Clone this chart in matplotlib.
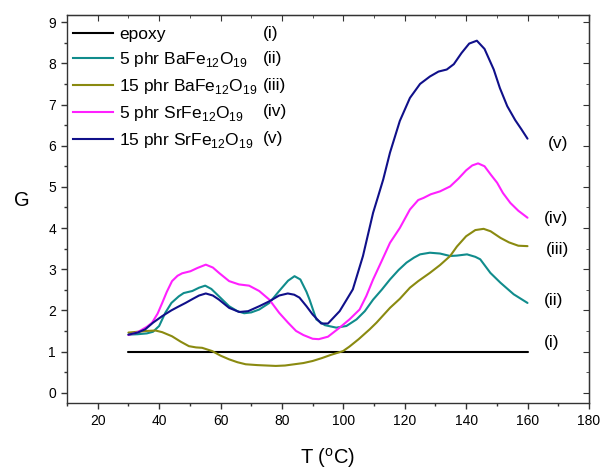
import matplotlib
matplotlib.use("Agg")
import matplotlib.pyplot as plt
from matplotlib.ticker import MultipleLocator
from matplotlib.lines import Line2D

plt.rcParams['font.family'] = ['Liberation Sans', 'DejaVu Sans']
plt.rcParams['mathtext.fontset'] = 'custom'
plt.rcParams['mathtext.rm'] = 'Liberation Sans'

# ---- data ----
T_epoxy = [30, 160]
G_epoxy = [1.0, 1.0]

T_ba5 = [30, 33, 36, 38, 40, 42, 44, 46.4, 48, 50.8, 53, 55, 57, 59.5, 62.8, 65.5, 67.7, 70, 72.6,
         75.9, 79.1, 82, 84.1, 86, 88, 89, 91.2, 94, 97.7, 101, 104.3, 107, 109.7, 112.5, 115.2,
         118, 120.6, 123, 125, 128.2, 131.5, 134.8, 137, 140.3, 143, 144.6, 147.9, 151.2, 155.5, 160]
G_ba5 = [1.41, 1.42, 1.44, 1.48, 1.62, 1.94, 2.18, 2.34, 2.42, 2.47, 2.55, 2.60, 2.52, 2.34, 2.10,
         1.98, 1.93, 1.95, 2.02, 2.18, 2.47, 2.72, 2.83, 2.75, 2.45, 2.26, 1.78, 1.64, 1.58, 1.62,
         1.78, 1.98, 2.26, 2.50, 2.75, 2.98, 3.16, 3.28, 3.36, 3.40, 3.38, 3.32, 3.33, 3.36, 3.30,
         3.24, 2.91, 2.67, 2.39, 2.18]

T_ba15 = [30, 33, 36, 38.8, 41, 44.2, 47, 49.7, 52, 54, 57.3, 60, 62.8, 65.5, 68.2, 72, 75, 78, 81,
          84, 87, 90, 93, 96, 99.9, 102, 105, 108.6, 110.8, 113, 115.2, 118.4, 121.7, 124.4, 128.2,
          131.5, 134.8, 137, 140, 143, 145.7, 148, 151.2, 154, 157, 160]
G_ba15 = [1.46, 1.48, 1.50, 1.51, 1.47, 1.37, 1.24, 1.13, 1.10, 1.09, 1.01, 0.90, 0.81, 0.74, 0.69,
          0.67, 0.66, 0.65, 0.66, 0.69, 0.72, 0.77, 0.84, 0.92, 1.01, 1.12, 1.30, 1.54, 1.70, 1.88,
          2.06, 2.28, 2.55, 2.71, 2.91, 3.10, 3.32, 3.55, 3.80, 3.95, 3.98, 3.92, 3.76, 3.65, 3.57, 3.56]

T_sr5 = [30, 33, 36, 37.7, 39.5, 41, 42.5, 44.2, 46, 47.5, 50.2, 52.5, 55.2, 57.5, 59.5, 62.8, 64.4,
         66, 69.3, 72.6, 75.9, 79.1, 82, 84.6, 87, 90, 92, 95, 98.8, 102, 105.3, 107.5, 109.7, 112.5,
         115.2, 118.4, 121.7, 124.4, 126.1, 128.5, 131.5, 134.8, 137.5, 140, 142, 143.9, 146, 148,
         150.1, 152, 154.4, 157, 160]
G_sr5 = [1.40, 1.47, 1.60, 1.70, 1.92, 2.18, 2.45, 2.71, 2.84, 2.90, 2.95, 3.03, 3.11, 3.04, 2.91,
         2.71, 2.67, 2.63, 2.60, 2.47, 2.26, 1.94, 1.70, 1.50, 1.40, 1.31, 1.30, 1.36, 1.58, 1.78,
         2.02, 2.35, 2.75, 3.20, 3.64, 4.00, 4.45, 4.68, 4.73, 4.82, 4.89, 5.01, 5.20, 5.40, 5.52,
         5.57, 5.50, 5.30, 5.10, 4.85, 4.61, 4.42, 4.25]

T_sr15 = [30, 33, 35.5, 38, 41, 44, 46, 48.6, 51, 53, 55.2, 57.5, 59.5, 62.8, 66.1, 69, 72.6, 75.9,
          79.1, 81.9, 84, 85.7, 88, 90, 92.8, 95, 98.8, 101, 103.1, 106.4, 109.7, 111.3, 113, 115.2,
          118.4, 121.7, 125, 128.2, 131, 133.7, 136, 138.5, 141, 143.5, 146, 149, 151, 153.4, 156,
          158, 160]
G_sr15 = [1.41, 1.46, 1.54, 1.70, 1.86, 2.00, 2.08, 2.18, 2.28, 2.36, 2.41, 2.36, 2.26, 2.06, 1.96,
          1.98, 2.10, 2.22, 2.36, 2.41, 2.38, 2.31, 2.10, 1.90, 1.68, 1.68, 1.98, 2.25, 2.51, 3.32,
          4.37, 4.76, 5.18, 5.83, 6.60, 7.16, 7.50, 7.68, 7.80, 7.85, 7.98, 8.25, 8.48, 8.55, 8.35,
          7.85, 7.40, 6.96, 6.62, 6.40, 6.17]

names = ["epoxy", "5 phr BaFe$_{12}$O$_{19}$", "15 phr BaFe$_{12}$O$_{19}$",
         "5 phr SrFe$_{12}$O$_{19}$", "15 phr SrFe$_{12}$O$_{19}$"]
tags = ["(i)", "(ii)", "(iii)", "(iv)", "(v)"]
colors = ["#000000", "#108c8c", "#8a8a10", "#ff20ff", "#10108a"]

series = [(T_epoxy, G_epoxy), (T_ba5, G_ba5), (T_ba15, G_ba15), (T_sr5, G_sr5), (T_sr15, G_sr15)]

FS = 12.5

# ---- figure ----
fig = plt.figure(figsize=(6.04, 4.70), dpi=100)
ax = fig.add_axes([0.111, 0.1426, 0.864, 0.826])

for (t, g), c in zip(series, colors):
    ax.plot(t, g, color=c, lw=1.5, solid_capstyle='round', solid_joinstyle='round')

ax.set_xlim(10, 180)
ax.set_ylim(-0.25, 9.18)
ax.xaxis.set_major_locator(MultipleLocator(20))
ax.xaxis.set_minor_locator(MultipleLocator(10))
ax.yaxis.set_major_locator(MultipleLocator(1))
ax.yaxis.set_minor_locator(MultipleLocator(0.5))
ax.set_xticks(range(20, 181, 20))
ax.tick_params(which='both', direction='out', labelsize=10, width=1, colors='#333333',
               labelcolor='black')
ax.tick_params(which='major', length=4.5)
ax.tick_params(which='minor', length=2.5)
for s in ax.spines.values():
    s.set_color('#333333')
    s.set_linewidth(1)

# mirrored inward ticks on top/right
top = ax.secondary_xaxis('top')
top.xaxis.set_major_locator(MultipleLocator(20))
top.xaxis.set_minor_locator(MultipleLocator(10))
top.tick_params(which='both', direction='in', labeltop=False, colors='#333333')
top.tick_params(which='major', length=4.5)
top.tick_params(which='minor', length=2.5)
right = ax.secondary_yaxis('right')
right.yaxis.set_major_locator(MultipleLocator(1))
right.yaxis.set_minor_locator(MultipleLocator(0.5))
right.tick_params(which='both', direction='in', labelright=False, colors='#333333')
right.tick_params(which='major', length=4.5)
right.tick_params(which='minor', length=2.5)

ax.set_xlabel("T ($^{\\mathrm{o}}$C)", fontsize=14.5, labelpad=13)
fig.text(22 / 604, 1 - 201 / 470, "G", fontsize=14.5, ha='center', va='center')

# legend
handles = [Line2D([0], [0], color=c, lw=1.5) for c in colors]
leg = ax.legend(handles, names, loc='upper left', bbox_to_anchor=(-0.006, 0.99), frameon=False,
                fontsize=FS, handlelength=2.35, handletextpad=0.35, labelspacing=0.45,
                borderaxespad=0.3, borderpad=0.2)

# roman numeral tags in legend, aligned to the legend rows
fig.canvas.draw()
renderer = fig.canvas.get_renderer()
inv = ax.transAxes.inverted()
for line, tag in zip(leg.get_lines(), tags):
    bb = line.get_window_extent(renderer)
    ymid = (bb.y0 + bb.y1) / 2
    _, ya = inv.transform((0, ymid))
    ax.text(0.3745, ya, tag, transform=ax.transAxes, fontsize=FS, va='center', ha='left')

# curve end tags
tag_pos = [(165.4, 1.22), (165.4, 2.24), (166.0, 3.47), (165.4, 4.24), (166.6, 6.05)]
for tag, (x, y) in zip(tags, tag_pos):
    ax.text(x, y, tag, fontsize=FS, va='center', ha='left')

fig.savefig("out.png", dpi=100, facecolor='white')
